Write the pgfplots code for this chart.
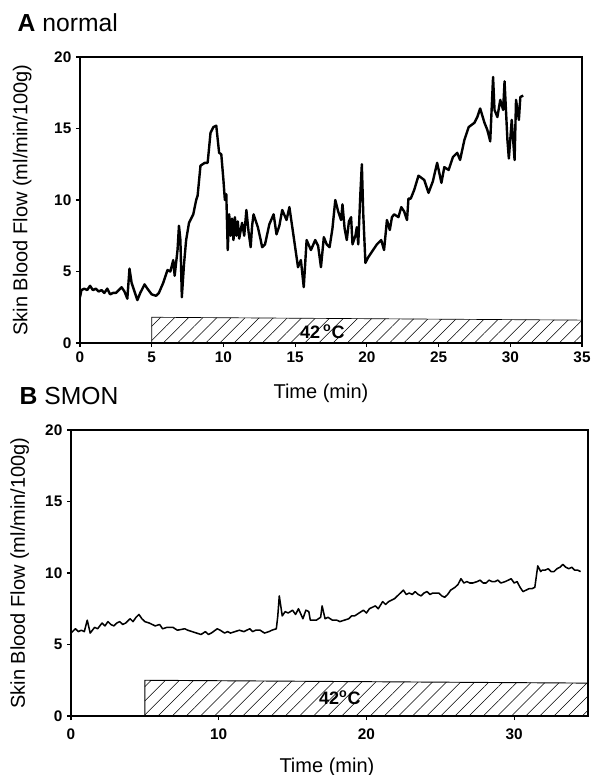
\documentclass[border=0pt]{standalone}
\usepackage{fontspec}
\setmainfont{Liberation Sans}
\usepackage{pgfplots}
\pgfplotsset{compat=1.18}
\usetikzlibrary{patterns.meta}

\begin{document}
\begin{tikzpicture}
\useasboundingbox (0,0) rectangle (444.75pt,581.25pt);
\pgfplotsset{
  every axis/.append style={
    scale only axis,
    axis line style={line width=1.1pt},
    tick align=outside, tick pos=left,
    major tick length=3pt,
    tick style={line width=0.9pt, black},
    xmin=0, xmax=35, ymin=0, ymax=20,
    ytick={0,5,10,15,20},
    ticklabel style={font=\fontsize{11.5}{13}\selectfont\bfseries},
    label style={font=\fontsize{15}{17}\selectfont},
    /pgf/number format/assume math mode=true,
  }
}
% ---------------- Panel A ----------------
\begin{axis}[
  at={(60pt,324pt)}, anchor=south west,
  width=376.5pt, height=214.5pt,
  xtick={0,5,...,35},
  xlabel={Time (min)},
  ylabel={Skin Blood Flow (ml/min/100g)},
  xlabel style={at={(axis description cs:0.48,-0.175)}, anchor=center},
  ylabel style={at={(axis description cs:-0.115,0.5)}, anchor=center},
]
\addplot[black, line width=0.5pt, pattern={Lines[angle=45, distance=7.5pt, line width=0.4pt]}]
  coordinates {(5,0) (5,1.8) (35,1.6) (35,0)} -- cycle;
\node[font=\fontsize{13.5}{15}\selectfont\bfseries] at (axis cs:16.9,0.8) {42\,\textsuperscript{o}C};
\addplot[black, line width=1.8pt, line join=round] coordinates {
(0,3.2) (0.1,3.7) (0.3,3.8) (0.5,3.7) (0.7,4.0) (0.9,3.7) (1.1,3.8) (1.3,3.6)
(1.5,3.7) (1.7,3.5) (1.9,3.8) (2.1,3.4) (2.3,3.5) (2.5,3.5) (2.7,3.7) (2.9,3.9)
(3.1,3.6) (3.3,3.1) (3.45,5.2) (3.6,4.2) (3.8,3.6) (4.0,3.0) (4.2,3.5) (4.5,4.1)
(4.7,3.8) (5.0,3.4) (5.3,3.3) (5.5,3.5) (5.8,4.2) (6.0,4.8) (6.1,5.1) (6.3,5.0)
(6.5,5.8) (6.6,4.7) (6.8,6.5) (6.9,8.2) (7.0,7.2) (7.1,3.2) (7.25,5.5) (7.4,7.2)
(7.6,8.4) (7.9,9.0) (8.1,10.0) (8.2,10.3) (8.4,12.4) (8.7,12.6) (8.9,12.6) (9.1,14.7)
(9.3,15.1) (9.5,15.2) (9.7,13.3) (9.85,13.2) (10.0,11.4) (10.1,10.0) (10.2,10.4) (10.3,6.5)
(10.4,9.0) (10.5,7.5) (10.6,8.7) (10.7,7.2) (10.8,8.8) (10.9,7.5) (11.0,8.5) (11.1,7.3)
(11.3,8.4) (11.45,7.5) (11.6,9.3) (11.75,7.8) (11.9,6.7) (12.0,8.2) (12.1,9.0) (12.4,8.1)
(12.6,7.2) (12.7,6.7) (12.9,6.9) (13.2,8.3) (13.5,9.0) (13.7,7.6) (13.9,8.2) (14.1,9.3)
(14.4,8.6) (14.6,9.5) (14.9,7.4) (15.1,6.0) (15.2,5.3) (15.4,5.8) (15.6,3.9) (15.8,7.2)
(16.1,6.5) (16.4,7.2) (16.6,6.8) (16.8,5.3) (17.0,7.4) (17.2,6.9) (17.4,6.7) (17.6,8.0)
(17.8,10.0) (18.0,9.2) (18.2,8.6) (18.3,9.7) (18.45,8.0) (18.6,7.2) (18.75,8.5) (18.9,8.8)
(19.0,6.9) (19.2,7.5) (19.3,8.1) (19.4,6.9) (19.55,10.5) (19.65,12.5) (19.75,9.0) (19.9,5.6)
(20.1,6.0) (20.3,6.3) (20.5,6.6) (20.7,6.9) (21.0,7.2) (21.2,6.5) (21.4,8.6) (21.6,7.9)
(21.75,8.8) (21.9,9.0) (22.2,8.8) (22.4,9.5) (22.6,9.2) (22.8,8.6) (22.9,10.1) (23.06,10.1)
(23.3,10.7) (23.6,11.7) (24.0,11.4) (24.3,10.5) (24.6,11.3) (24.9,12.6) (25.2,11.2) (25.4,12.3)
(25.7,12.1) (26.0,13.0) (26.3,13.3) (26.5,12.8) (26.8,14.2) (27.1,15.1) (27.5,15.4) (27.7,15.8)
(27.9,16.4) (28.2,15.4) (28.4,14.9) (28.6,14.1) (28.8,18.6) (28.9,16.3) (29.1,15.8) (29.3,17.0)
(29.5,16.3) (29.6,18.3) (29.8,14.2) (29.9,12.9) (30.1,15.6) (30.3,12.8) (30.4,17.0) (30.6,15.6)
(30.7,17.2) (30.9,17.3)
};
\end{axis}
\node[anchor=base west, font=\fontsize{18.5}{20}\selectfont] at (9.75pt,557.25pt) {\textbf{A} normal};
% ---------------- Panel B ----------------
\begin{axis}[
  at={(53.25pt,44.25pt)}, anchor=south west,
  width=387.75pt, height=214.5pt,
  xtick={0,10,20,30},
  xticklabel style={yshift=-3pt},
  xlabel={Time (min)},
  ylabel={Skin Blood Flow (ml/min/100g)},
  xlabel style={at={(axis description cs:0.495,-0.178)}, anchor=center},
  ylabel style={at={(axis description cs:-0.099,0.5)}, anchor=center},
]
\addplot[black, line width=0.7pt, pattern={Lines[angle=45, distance=7.5pt, line width=0.4pt]}]
  coordinates {(5,0) (5,2.5) (35,2.3) (35,0)} -- cycle;
\node[font=\fontsize{13.5}{15}\selectfont\bfseries] at (axis cs:18.2,1.26) {42\textsuperscript{o}C};
\addplot[black, line width=1.15pt, line join=round] coordinates {
(0,5.8) (0.3,6.1) (0.5,5.9) (0.7,6.0) (0.9,5.9) (1.1,6.7) (1.3,5.8) (1.6,6.2) (1.8,6.1)
(2.1,6.5) (2.3,6.3) (2.5,6.6) (2.7,6.4) (2.9,6.3) (3.1,6.5) (3.3,6.6) (3.5,6.4) (3.7,6.5)
(4.0,6.8) (4.2,6.6) (4.4,6.9) (4.6,7.1) (4.8,6.8) (5.0,6.6) (5.3,6.5) (5.7,6.3) (6.0,6.4)
(6.2,6.1) (6.5,6.2) (6.9,6.2) (7.2,6.0) (7.7,6.1) (7.9,6.0) (8.2,5.9) (8.5,5.8) (8.8,5.7)
(9.1,5.9) (9.3,5.7) (9.5,5.8) (9.9,6.1) (10.1,6.0) (10.4,5.8) (10.6,5.9) (10.8,5.8)
(11.1,5.9) (11.4,6.0) (11.7,5.9) (12.1,6.1) (12.3,5.9) (12.5,6.0) (12.8,6.0) (13.1,5.8)
(13.4,5.9) (13.6,6.0) (13.9,6.1) (14.0,7.0) (14.1,8.4) (14.3,7.0) (14.5,7.3) (14.7,7.2)
(15.0,7.4) (15.2,7.1) (15.4,7.5) (15.7,6.8) (15.9,7.4) (16.1,7.3) (16.2,6.7) (16.6,6.7)
(16.9,6.9) (17.0,7.7) (17.2,6.8) (17.4,6.9) (17.7,6.7) (18.0,6.7) (18.2,6.6) (18.5,6.7)
(18.8,6.8) (19.0,7.0) (19.2,7.0) (19.5,7.2) (19.8,7.4) (20.0,7.2) (20.2,7.5) (20.6,7.7)
(20.8,7.5) (21.1,8.0) (21.3,7.8) (21.5,8.0) (21.9,8.2) (22.1,8.4) (22.3,8.6) (22.5,8.8)
(22.7,8.5) (22.9,8.6) (23.1,8.5) (23.3,8.7) (23.5,8.5) (23.7,8.4) (23.9,8.6) (24.1,8.7)
(24.3,8.5) (24.5,8.6) (24.9,8.6) (25.1,8.4) (25.3,8.3) (25.5,8.5) (25.7,8.8) (26.0,9.0)
(26.2,9.2) (26.4,9.6) (26.6,9.3) (26.8,9.4) (27.0,9.3) (27.2,9.3) (27.5,9.4) (27.7,9.5)
(27.9,9.3) (28.1,9.3) (28.3,9.5) (28.5,9.4) (28.7,9.4) (28.9,9.5) (29.1,9.3) (29.4,9.4)
(29.6,9.5) (29.8,9.6) (30.0,9.3) (30.2,9.4) (30.4,9.0) (30.6,8.7) (30.8,8.8) (31.0,8.9)
(31.2,8.9) (31.4,9.0) (31.6,10.5) (31.8,10.1) (31.9,10.2) (32.1,10.2) (32.3,10.3) (32.5,10.1)
(32.7,10.1) (32.9,10.3) (33.1,10.4) (33.3,10.6) (33.5,10.4) (33.7,10.3) (33.9,10.4)
(34.1,10.2) (34.3,10.2) (34.5,10.1)
};
\end{axis}
\node[anchor=base west, font=\fontsize{18.5}{20}\selectfont] at (11.25pt,277.5pt) {\textbf{B} SMON};
\end{tikzpicture}
\end{document}
